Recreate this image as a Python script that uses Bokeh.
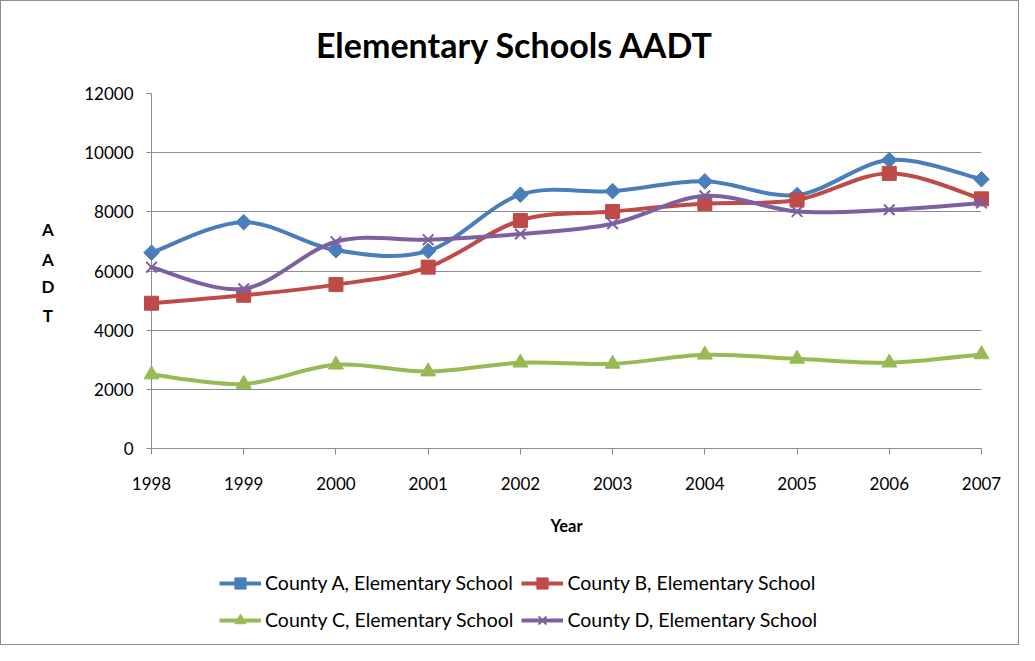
import numpy as np
from bokeh.plotting import figure
from bokeh.layouts import column
from bokeh.models import (Range1d, FixedTicker, Legend, LegendItem,
                          ColumnDataSource)
from bokeh.core.properties import value
from bokeh.embed import file_html
from bokeh.resources import INLINE

years = [1998, 1999, 2000, 2001, 2002, 2003, 2004, 2005, 2006, 2007]
county_a = [6620, 7650, 6700, 6680, 8580, 8700, 9030, 8570, 9750, 9100]
county_b = [4910, 5180, 5540, 6130, 7710, 8010, 8280, 8400, 9300, 8440]
county_c = [2500, 2180, 2830, 2600, 2900, 2860, 3170, 3030, 2900, 3180]
county_d = [6130, 5400, 6990, 7060, 7250, 7600, 8540, 8010, 8070, 8300]

names = ["County A, Elementary School", "County B, Elementary School",
         "County C, Elementary School", "County D, Elementary School"]
title_text = "Elementary Schools AADT"
y_letters = ["A", "A", "D", "T"]
y_ticks = [0, 2000, 4000, 6000, 8000, 10000, 12000]

colors = ["#4A7EBB", "#BE4B48", "#98B954", "#7D60A0"]
markers = ["square", "square", "triangle", "x"]
angles = [np.pi / 4, 0, 0, 0]
msizes = [11, 14, 15, 15]

FONT = "Lato"
GRAY = "#8C8C8C"
W = 1017

p = figure(width=W, height=560, output_backend="svg", toolbar_location=None,
           x_range=Range1d(1998, 2007), y_range=Range1d(0, 12000),
           min_border_left=150, min_border_right=37, min_border_top=92,
           min_border_bottom=113)
p.outline_line_color = None

p.xgrid.grid_line_color = None
p.ygrid.grid_line_color = GRAY
p.ygrid.grid_line_width = 1
p.ygrid.ticker = FixedTicker(ticks=y_ticks)

p.yaxis.ticker = FixedTicker(ticks=y_ticks)
p.xaxis.ticker = FixedTicker(ticks=years)
for ax in (p.xaxis[0], p.yaxis[0]):
    ax.axis_line_color = GRAY
    ax.major_tick_line_color = GRAY
    ax.minor_tick_line_color = None
    ax.major_tick_in = 0
    ax.major_label_text_font = FONT
    ax.major_label_text_font_size = "17px"
    ax.major_label_text_color = "#000000"
p.yaxis.major_tick_out = 5
p.yaxis.major_label_standoff = 13
p.xaxis.major_tick_out = 6
p.xaxis.major_label_standoff = 22
p.xaxis.axis_label = "Year"
p.xaxis.axis_label_text_font = FONT
p.xaxis.axis_label_text_font_style = "bold"
p.xaxis.axis_label_text_font_size = "16.5px"
p.xaxis.axis_label_text_color = "#000000"
p.xaxis.axis_label_standoff = 23

# legend strip below the chart (its frame is aligned with the chart's frame)
pl = figure(width=W, height=83, output_backend="svg", toolbar_location=None,
            x_range=Range1d(0, 1), y_range=Range1d(0, 1), min_border=0,
            x_axis_location=None, y_axis_location=None)
pl.outline_line_color = None
pl.grid.grid_line_color = None

series = [county_a, county_b, county_c, county_d]
items = []
for vals, name, col, mk, ang, ms in zip(series, names, colors, markers, angles, msizes):
    xs = np.array(years, dtype=float)
    ys = np.array(vals, dtype=float)
    n = len(xs)
    # Excel-style smoothed segments (Catmull-Rom control points)
    x0, y0, x1, y1, cx0, cy0, cx1, cy1 = [], [], [], [], [], [], [], []
    for i in range(n - 1):
        im1 = max(i - 1, 0)
        ip2 = min(i + 2, n - 1)
        x0.append(xs[i]); y0.append(ys[i])
        x1.append(xs[i + 1]); y1.append(ys[i + 1])
        cx0.append(xs[i] + (xs[i + 1] - xs[im1]) / 6)
        cy0.append(ys[i] + (ys[i + 1] - ys[im1]) / 6)
        cx1.append(xs[i + 1] - (xs[ip2] - xs[i]) / 6)
        cy1.append(ys[i + 1] - (ys[ip2] - ys[i]) / 6)
    bsrc = ColumnDataSource(dict(x0=x0, y0=y0, x1=x1, y1=y1,
                                 cx0=cx0, cy0=cy0, cx1=cx1, cy1=cy1))
    br = p.bezier(x0="x0", y0="y0", x1="x1", y1="y1", cx0="cx0", cy0="cy0",
                  cx1="cx1", cy1="cy1", source=bsrc, line_color=col,
                  line_width=4, line_cap="round")
    br.level = "overlay"
    # legend-only renderers (point lies outside the strip's visible range)
    if mk == "x":
        sr = p.scatter(x=years, y=vals, marker=mk, size=ms, line_color=col,
                       line_width=2, fill_color=col)
        lsr = pl.scatter(x=[-5], y=[-5], marker=mk, line_color=col,
                         line_width=2, fill_color=col)
    else:
        sr = p.scatter(x=years, y=vals, marker=mk, size=ms, angle=ang,
                       line_color=col, fill_color=col)
        lsr = pl.scatter(x=[-5], y=[-5], marker=mk, angle=ang,
                         line_color=col, fill_color=col)
    sr.level = "overlay"
    llr = pl.line(x=[-5, -4], y=[-5, -5], line_color=col, line_width=4)
    items.append(LegendItem(label=name, renderers=[llr, lsr]))

# column-major fill: A, C in column 1 / B, D in column 2 -> rows A B / C D
legend = Legend(items=[items[0], items[2], items[1], items[3]],
                location=(68, 10), margin=0, ncols=2,
                label_text_font=FONT, label_text_font_size="19.5px",
                label_text_color="#000000", glyph_width=42, glyph_height=28,
                label_height=29, label_standoff=4, spacing=8, padding=0,
                border_line_color=None, background_fill_alpha=0)
pl.add_layout(legend, "center")

# title and stacked y-axis label as unclipped text glyphs
tr = p.text(x=[1997.96 + 3.98], y=[13656], text=[title_text],
            text_font=value(FONT), text_font_size="34px",
            text_font_style="bold", text_align="center",
            text_baseline="middle", text_color="#000000")
tr.level = "overlay"
lr2 = p.text(x=[1996.876] * 4, y=[7393, 6400, 5480, 4490], text=y_letters,
             text_font=value(FONT), text_font_size="17px",
             text_font_style="bold", text_align="center",
             text_baseline="middle", text_color="#000000")
lr2.level = "overlay"

layout = column(p, pl, spacing=0,
                styles={"border": "1px solid #8C8C8C", "gap": "0px"})
open("out.html", "w").write(file_html(layout, INLINE))
